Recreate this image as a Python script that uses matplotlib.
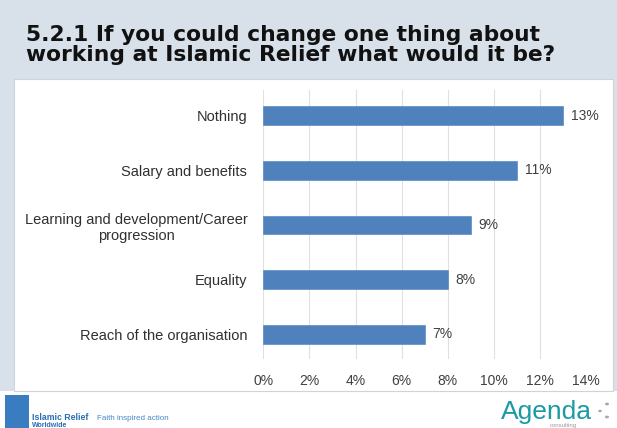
import matplotlib
matplotlib.use("Agg")
import matplotlib.pyplot as plt
from matplotlib.patches import Rectangle, Circle

categories = ["Nothing", "Salary and benefits",
              "Learning and development/Career\nprogression",
              "Equality", "Reach of the organisation"]
values = [13, 11, 9, 8, 7]
value_labels = ["13%", "11%", "9%", "8%", "7%"]
xticks = [0, 2, 4, 6, 8, 10, 12, 14]
xtick_labels = ["0%", "2%", "4%", "6%", "8%", "10%", "12%", "14%"]
title = "5.2.1 If you could change one thing about\nworking at Islamic Relief what would it be?"

plt.rcParams['font.family'] = ['Liberation Sans', 'DejaVu Sans']

W, H = 617, 428
fig = plt.figure(figsize=(W / 100, H / 100), dpi=100, facecolor="white")

def fx(px):
    return px / W

def fy(py):
    return 1 - py / H

# header / background band
fig.patches.append(Rectangle((0, fy(391)), 1, 1 - fy(391), transform=fig.transFigure,
                             facecolor="#d8e0e9", edgecolor="none", zorder=-3))
# white panel
fig.patches.append(Rectangle((fx(14), fy(391)), fx(613) - fx(14), fy(79) - fy(391),
                             transform=fig.transFigure, facecolor="white",
                             edgecolor="#d0d4d8", linewidth=0.8, zorder=-2))

fig.text(fx(26), fy(61), title, ha="left", va="baseline", fontsize=15.7, fontweight="bold",
         color="#111111", linespacing=0.98, family="DejaVu Sans")

ax = fig.add_axes([fx(263.3), fy(359), fx(586) - fx(263.3), fy(90) - fy(359)])
ax.set_facecolor("none")
ypos = list(range(len(categories)))
ax.barh(ypos, values, height=0.34, color="#4f81bd", edgecolor="#5b8cc6", linewidth=0.5, zorder=3)
for y, v, lab in zip(ypos, values, value_labels):
    ax.text(v + 0.35, y, lab, va="center", ha="left", fontsize=10, color="#404040")
ax.set_ylim(4.45, -0.47)
ax.set_xlim(0, 14)
ax.set_yticks(ypos)
ax.set_yticklabels(categories, fontsize=10.5, color="#303030", multialignment="center")
ax.set_xticks(xticks)
ax.set_xticklabels(xtick_labels, fontsize=10, color="#404040")
ax.tick_params(length=0)
ax.tick_params(axis="x", pad=10.5)
ax.tick_params(axis="y", pad=11.5)
ax.grid(axis="x", color="#e0e0e0", linewidth=0.8, zorder=0)
for s in ax.spines.values():
    s.set_visible(False)

# footer: Islamic Relief
fig.patches.append(Rectangle((fx(5), fy(428)), fx(29) - fx(5), fy(395) - fy(428),
                             transform=fig.transFigure, facecolor="#3a7cc0", edgecolor="none", zorder=2))
fig.text(fx(32), fy(418), "Islamic Relief", fontsize=6.3, fontweight="bold", color="#2b6cb0",
         ha="left", va="center")
fig.text(fx(97), fy(418), "Faith inspired action", fontsize=5.8, color="#4a86c5",
         ha="left", va="center")
fig.text(fx(32), fy(425.5), "Worldwide", fontsize=5, fontweight="bold", color="#2b6cb0",
         ha="left", va="center")
# footer: Agenda consulting
fig.text(fx(592), fy(418.5), "Agenda", fontsize=19, color="#1b9aa6", ha="right", va="baseline")
fig.text(fx(563), fy(427.5), "consulting", fontsize=4.3, color="#999999", ha="center", va="baseline")
for (cx, cy, r) in [(600, 411, 1.8), (607, 404, 2.0), (607, 417, 2.0)]:
    fig.patches.append(Circle((fx(cx), fy(cy)), r / W, transform=fig.transFigure,
                              facecolor="#a8a8a8", edgecolor="none", zorder=2))

fig.savefig("out.png", dpi=100, facecolor="white")
